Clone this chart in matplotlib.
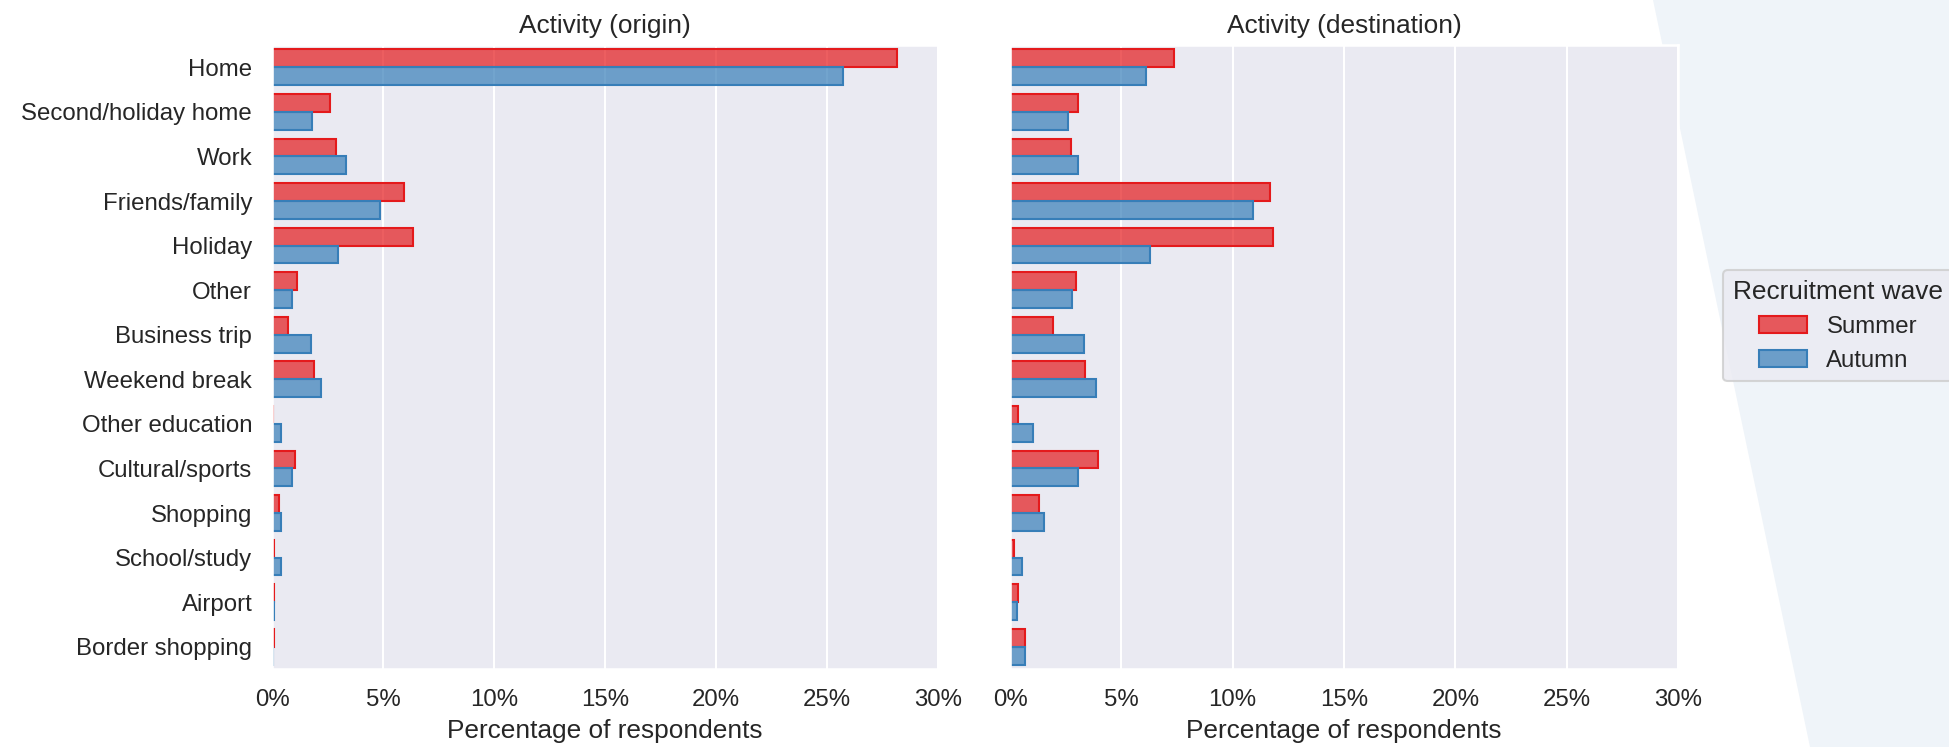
import matplotlib
matplotlib.use("Agg")
import matplotlib.pyplot as plt
import numpy as np
import seaborn as sns
from matplotlib.colors import to_rgba
from matplotlib.patches import Polygon, Patch
from matplotlib.ticker import PercentFormatter

activities = ["Home", "Second/holiday home", "Work", "Friends/family", "Holiday", "Other",
              "Business trip", "Weekend break", "Other education", "Cultural/sports",
              "Shopping", "School/study", "Airport", "Border shopping"]
waves = ["Summer", "Autumn"]

# percentage of respondents per activity
origin_summer = [28.15, 2.62, 2.9, 5.93, 6.35, 1.13, 0.72, 1.88, 0.05, 1.02, 0.32, 0.08, 0.09, 0.08]
origin_autumn = [25.73, 1.8, 3.34, 4.88, 2.98, 0.91, 1.74, 2.21, 0.42, 0.88, 0.4, 0.4, 0.07, 0.06]
dest_summer = [7.38, 3.04, 2.73, 11.66, 11.83, 2.96, 1.91, 3.38, 0.35, 3.95, 1.31, 0.2, 0.35, 0.66]
dest_autumn = [6.13, 2.62, 3.04, 10.9, 6.3, 2.79, 3.32, 3.84, 1.03, 3.07, 1.51, 0.55, 0.31, 0.66]

sns.set_theme(style="darkgrid", font_scale=1.05)
plt.rcParams["font.family"] = ["Liberation Sans", "DejaVu Sans"]

colors = {"Summer": "#e41a1c", "Autumn": "#377eb8"}
W, H = 1949, 747
fig = plt.figure(figsize=(W / 150, H / 150), dpi=150)

# pale slanted panel on the right side of the canvas
fig.add_artist(Polygon([(1653 / W, 1), (1, 1), (1, 0), (1810 / W, 0)], closed=True,
                       transform=fig.transFigure, facecolor="#eff4f9", edgecolor="none",
                       zorder=-1))

ax1 = fig.add_axes([272 / W, 78 / H, 666 / W, 624 / H])
ax2 = fig.add_axes([1010 / W, 78 / H, 668 / W, 624 / H], sharey=ax1)

y = np.arange(len(activities))
panels = [(ax1, "Activity (origin)", origin_summer, origin_autumn),
          (ax2, "Activity (destination)", dest_summer, dest_autumn)]

for ax, title, summer, autumn in panels:
    for offset, wave, vals in [(-0.2, "Summer", summer), (0.2, "Autumn", autumn)]:
        ax.barh(y + offset, vals, height=0.4, facecolor=to_rgba(colors[wave], 0.7),
                edgecolor=colors[wave], linewidth=1.0, label=wave)
    ax.set_title(title)
    ax.set_xlim(0, 30)
    ax.set_xticks(range(0, 31, 5))
    ax.xaxis.set_major_formatter(PercentFormatter(decimals=0))
    ax.set_xlabel("Percentage of respondents")
    ax.yaxis.grid(False)

ax1.set_yticks(y)
ax1.set_yticklabels(activities)
ax1.set_ylim(len(activities) - 0.5, -0.5)
ax2.tick_params(axis="y", labelleft=False)

handles = [Patch(facecolor=to_rgba(colors[w], 0.7), edgecolor=colors[w], linewidth=1.0)
           for w in waves]
ax2.legend(handles, waves, title="Recruitment wave", loc="center left",
           bbox_to_anchor=(1.05, 0.55))

fig.savefig("out.png", dpi=150)
